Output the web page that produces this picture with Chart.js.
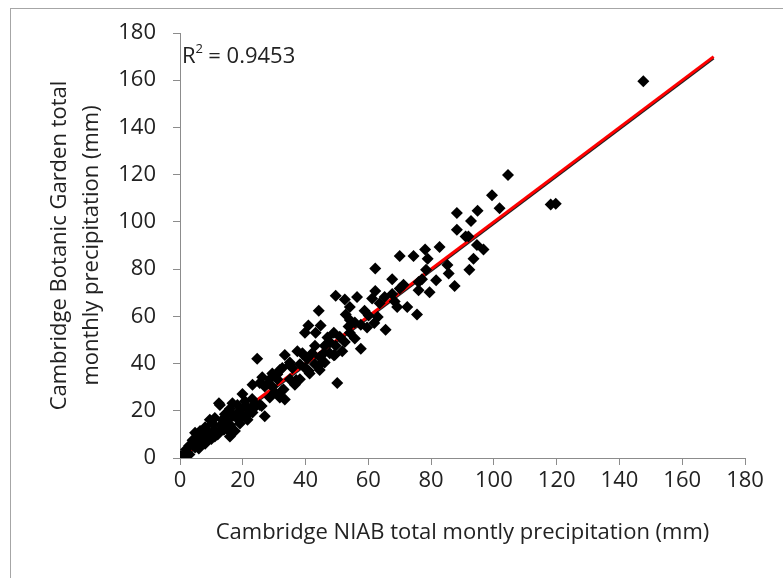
<!DOCTYPE html>
<html>
<head>
<meta charset="utf-8">
<script src="https://cdn.jsdelivr.net/npm/chart.js@4/dist/chart.umd.min.js"></script>
<style>
  html, body { margin: 0; padding: 0; background: #fff; }
  #wrap { width: 783px; height: 578px; }
</style>
</head>
<body>
<div id="wrap"><canvas id="c"></canvas></div>
<script>
// --- data: NIAB (x) vs Botanic Garden (y), mm ---
const niab = [
  147.6, 104.5, 99.4, 101.8, 118.1, 119.7, 88.2, 94.8, 92.7, 88.2, 91.0, 91.9, 94.6, 96.7,
  82.7, 78.1, 78.9, 93.5, 85.2, 85.6, 92.2, 87.5, 81.6, 79.5, 76.0, 78.4, 77.1, 76.0,
  70.0, 74.4, 62.2, 67.6, 71.2, 70.0, 67.6, 65.2, 72.4, 75.5, 68.4, 69.2,
  62.2, 61.2, 63.6, 63.0, 65.5, 61.9, 60.1, 58.8, 59.6,
  57.6, 55.7, 54.1, 53.7, 52.5, 56.4, 54.1, 52.8, 49.6, 44.2,
  40.9, 44.8, 39.8, 43.2, 57.6, 55.7, 52.5, 54.1, 50.9, 49.0, 47.7, 46.1, 49.6, 51.7,
  49.3, 47.7, 45.8, 50.1, 44.5, 46.1,
  24.6, 33.4, 38.2, 35.8, 31.8, 29.4, 31.0, 28.6, 26.2, 25.4, 23.1, 27.0, 29.4, 32.6,
  33.4, 27.0, 25.4, 22.3, 20.7, 19.9, 18.3, 16.7, 15.9, 14.3, 12.7, 12.4, 13.5, 11.1,
  10.3, 9.5, 8.0, 6.4, 5.6, 4.8, 4.0, 2.9, 1.9, 0.3, 15.9, 17.5, 15.1, 11.1, 9.5, 8.0,
  6.4, 4.8, 19.1, 21.5, 23.1, 23.9, 28.6, 31.8, 30.2, 35.0, 36.6, 38.2, 39.8, 41.3,
  43.0, 40.5, 42.1, 44.5, 39.0, 37.4, 35.0, 32.6,
  2.0, 3.0, 5.0, 6.0, 7.0, 8.0, 9.0, 10.0, 11.0, 12.0, 13.0, 14.0, 15.0, 16.0, 17.0,
  18.0, 19.0, 20.0, 21.0, 22.0, 23.0, 24.0, 26.0, 28.0,
  31.0, 33.0, 35.0, 37.0, 39.0, 41.0, 43.0, 45.0, 47.0, 49.0
];
const botanic = [
  159.6, 119.9, 111.3, 105.8, 107.4, 107.7, 103.8, 104.7, 100.4, 96.7, 93.8, 93.8, 90.2, 88.3,
  89.4, 88.3, 84.4, 84.4, 81.7, 78.1, 79.7, 72.9, 75.3, 70.2, 71.0, 79.7, 75.7, 74.5,
  85.6, 85.6, 80.3, 75.7, 73.4, 71.8, 69.5, 68.2, 64.0, 60.8, 66.3, 64.0,
  70.7, 67.6, 65.5, 59.7, 54.3, 57.2, 60.4, 62.4, 55.3,
  56.4, 57.4, 58.5, 55.7, 67.1, 68.2, 64.0, 60.8, 68.7, 62.4,
  56.1, 56.1, 53.0, 53.0, 46.3, 50.6, 49.1, 53.0, 51.4, 53.0, 49.1, 47.5, 47.5, 45.2,
  43.6, 44.4, 44.4, 31.8, 37.3, 40.5,
  42.0, 43.6, 39.7, 38.1, 37.3, 35.8, 33.4, 33.4, 34.2, 31.8, 31.0, 30.3, 30.3, 28.7,
  24.8, 17.7, 22.4, 20.9, 24.0, 27.1, 22.4, 23.2, 20.9, 18.5, 22.4, 23.2, 16.2, 16.9,
  14.6, 16.2, 13.0, 11.4, 9.9, 10.7, 7.5, 5.2, 3.6, 0.8, 9.1, 11.4, 12.2, 9.1, 8.3, 9.9,
  6.7, 4.4, 14.6, 16.2, 19.3, 21.6, 25.6, 25.6, 27.9, 33.4, 31.0, 33.4, 38.1, 35.8,
  39.7, 42.0, 44.4, 42.8, 44.4, 45.2, 40.5, 38.1,
  2.0, 1.5, 5.0, 4.0, 7.0, 6.0, 11.0, 8.0, 12.0, 10.0, 14.0, 12.0, 16.0, 14.0, 18.0,
  17.0, 20.0, 18.0, 22.0, 19.0, 25.0, 23.0, 22.0, 31.5,
  35.5, 29.0, 39.5, 33.0, 44.0, 37.0, 47.5, 40.0, 51.0, 43.5
];
// linear trend line end points
const trendX = [0, 170];
const trendY = [0, 170];
const rSquared = '0.9453';
const axisTicks = [0, 20, 40, 60, 80, 100, 120, 140, 160, 180];

const FONT = '"Open Sans", sans-serif';
const points = niab.map((x, i) => ({ x: x, y: botanic[i] }));

// frame + R² label
const extras = {
  id: 'extras',
  beforeDraw(chart) {
    const ctx = chart.ctx;
    ctx.save();
    ctx.strokeStyle = '#a6a6a6';
    ctx.lineWidth = 1;
    ctx.strokeRect(10.5, 8.5, 900, 700);
    ctx.restore();
  },
  afterDatasetsDraw(chart) {
    const ctx = chart.ctx;
    const a = chart.chartArea;
    ctx.save();
    ctx.fillStyle = '#222';
    ctx.font = '22px ' + FONT;
    ctx.textBaseline = 'alphabetic';
    ctx.fillText('R', a.left + 2, a.top + 30);
    const w = ctx.measureText('R').width;
    ctx.font = '13px ' + FONT;
    ctx.fillText('2', a.left + 2 + w, a.top + 20);
    ctx.font = '22px ' + FONT;
    ctx.fillText(' = ' + rSquared, a.left + 2 + w + 7, a.top + 30);
    ctx.restore();
  }
};

new Chart(document.getElementById('c'), {
  type: 'scatter',
  data: {
    datasets: [
      {
        data: points,
        pointStyle: 'rectRot',
        pointRadius: 6,
        backgroundColor: '#000',
        borderColor: '#000',
        borderWidth: 0,
        order: 0
      },
      {
        data: trendX.map((x, i) => ({ x: x, y: trendY[i] - 0.7 })),
        showLine: true,
        borderColor: '#222',
        borderWidth: 2.5,
        pointRadius: 0,
        order: 2
      },
      {
        data: trendX.map((x, i) => ({ x: x, y: trendY[i] })),
        showLine: true,
        borderColor: '#ff0000',
        borderWidth: 3,
        pointRadius: 0,
        order: 1
      }
    ]
  },
  options: {
    responsive: true,
    maintainAspectRatio: false,
    animation: false,
    layout: { padding: { left: 0, right: 38, top: 33, bottom: 28 } },
    plugins: { legend: { display: false }, tooltip: { enabled: false } },
    scales: {
      x: {
        type: 'linear',
        min: 0, max: 180,
        afterBuildTicks: s => { s.ticks = axisTicks.map(v => ({ value: v })); },
        afterFit: s => { s.height = 92; },
        grid: { drawOnChartArea: false, drawTicks: true, tickLength: 7, color: '#8c8c8c' },
        border: { color: '#8c8c8c', width: 1 },
        ticks: { color: '#222', font: { family: FONT, size: 22 }, padding: 3, maxRotation: 0 },
        title: {
          display: true,
          text: 'Cambridge NIAB total montly precipitation (mm)',
          color: '#222',
          font: { family: FONT, size: 22, lineHeight: 1.2 },
          padding: { top: 0, bottom: 4 }
        }
      },
      y: {
        type: 'linear',
        min: 0, max: 180,
        afterBuildTicks: s => { s.ticks = axisTicks.map(v => ({ value: v })); },
        afterFit: s => { s.width = 180; },
        grid: { drawOnChartArea: false, drawTicks: true, tickLength: 7, color: '#8c8c8c' },
        border: { color: '#8c8c8c', width: 1 },
        ticks: { color: '#222', font: { family: FONT, size: 22 }, padding: 17 },
        title: {
          display: true,
          text: ['Cambridge Botanic Garden total', 'monthly precipitation (mm)'],
          color: '#222',
          font: { family: FONT, size: 22, lineHeight: 1.45 },
          padding: { top: 44, bottom: 0 }
        }
      }
    }
  },
  plugins: [extras]
});
</script>
</body>
</html>
